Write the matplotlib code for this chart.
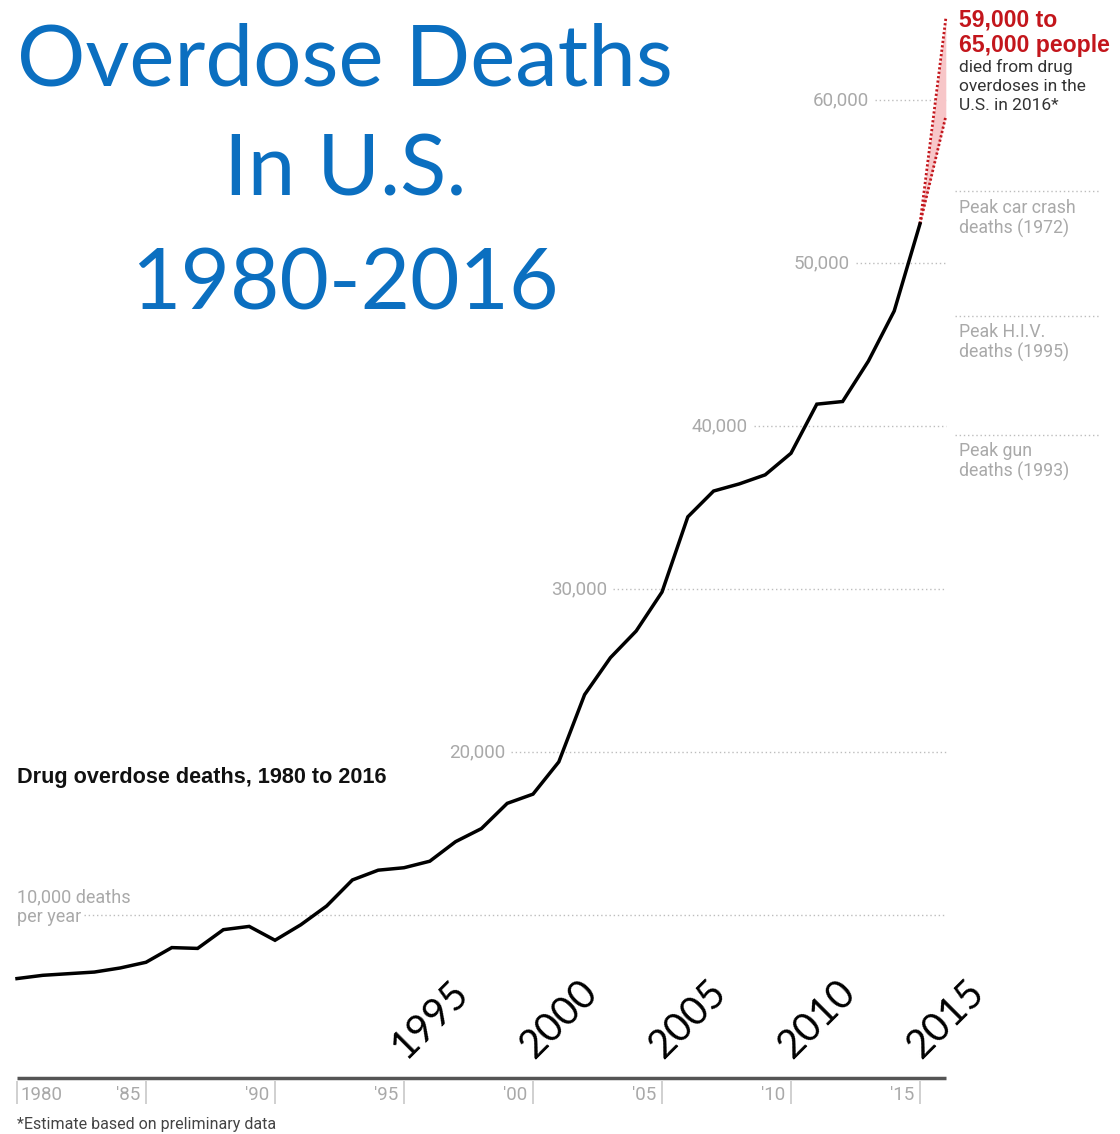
#!/usr/bin/env python3
"""Overdose deaths in the U.S., 1980-2016 (NYT-style line chart with slide title)."""

import matplotlib

matplotlib.use("Agg")
import matplotlib.pyplot as plt

# --- data ---------------------------------------------------------------
years = list(range(1980, 2016))
deaths = [
    6100, 6300, 6400, 6500, 6750, 7100, 8000, 7950, 9100, 9300,
    8450, 9400, 10550, 12150, 12750, 12900, 13300, 14500, 15300, 16849,
    17415, 19394, 23518, 25785, 27424, 29813, 34425, 36010, 36450, 37004,
    38329, 41340, 41502, 43982, 47055, 52404,
]
est_year = 2016
est_low, est_high = 59000, 65000

grid_levels = [10000, 20000, 30000, 40000, 50000, 60000]
grid_labels = ["10,000 deaths\nper year", "20,000", "30,000", "40,000", "50,000", "60,000"]

peak_names = ["Peak car crash\ndeaths (1972)", "Peak H.I.V.\ndeaths (1995)", "Peak gun\ndeaths (1993)"]
peak_values = [54400, 46750, 39450]

tick_years = [1980, 1985, 1990, 1995, 2000, 2005, 2010, 2015]
tick_labels = ["1980", "'85", "'90", "'95", "'00", "'05", "'10", "'15"]
big_years = [1995, 2000, 2005, 2010, 2015]

# --- layout -------------------------------------------------------------
W, H = 1120, 1134
PX_YEAR = 25.8      # pixels per year
PX_K = 16.3         # pixels per 1000 deaths
X0, Y0 = 17, 1078   # pixel of (1980, 0)

GRAY = "#a9a9a9"
RED = "#c3161c"
BLUE = "#0b6fc0"
SANS = ["Roboto", "DejaVu Sans"]
BOLD = ["Liberation Sans", "DejaVu Sans"]

fig = plt.figure(figsize=(W / 100, H / 100), dpi=100)
ax = fig.add_axes([0, 0, 1, 1])
ax.set_xlim(1980 - X0 / PX_YEAR, 1980 + (W - X0) / PX_YEAR)
ax.set_ylim(-(H - Y0) / PX_K * 1000, Y0 / PX_K * 1000)
ax.axis("off")


def yr(px):
    return 1980 + (px - X0) / PX_YEAR


def val(py):
    return (Y0 - py) / PX_K * 1000


# gridlines with labels sitting just left of where they start
label_right = [None, 505, 607, 748, 850, 869]
for lvl, lab, rpx in zip(grid_levels, grid_labels, label_right):
    if rpx is None:
        ax.hlines(lvl, yr(84), est_year, colors="#bdbdbd", linestyles=(0, (1, 2)), lw=1)
        ax.text(yr(17), val(907), lab, color=GRAY, fontsize=13, family=SANS,
                ha="left", va="center", linespacing=1.1)
    else:
        ax.hlines(lvl, yr(rpx + 6), est_year, colors="#bdbdbd", linestyles=(0, (1, 2)), lw=1)
        ax.text(yr(rpx), lvl, lab, color=GRAY, fontsize=13.5, family=SANS,
                ha="right", va="center")

# peak reference lines on the right
for name, v in zip(peak_names, peak_values):
    ax.hlines(v, yr(955), yr(1100), colors="#bdbdbd", linestyles=(0, (1, 2)), lw=1)
    ax.text(yr(959), v - 450, name, color=GRAY, fontsize=12.8, family=SANS,
            ha="left", va="top", linespacing=1.12)

# estimate fan for 2016
last_y, last_v = years[-1], deaths[-1]
ax.fill_between([last_y, est_year], [last_v, est_low], [last_v, est_high],
                color="#f7c6c8", lw=0, zorder=2)
for top in (est_low, est_high):
    ax.plot([last_y, est_year], [last_v, top], color=RED, lw=2,
            ls=(0, (0.8, 0.8)), zorder=3)

# main line
ax.plot(years, deaths, color="black", lw=2.5, solid_joinstyle="miter", zorder=4)

# x axis
ax.plot([1980, est_year], [0, 0], color="#555555", lw=2.5, solid_capstyle="butt")
for ty, tl in zip(tick_years, tick_labels):
    ax.vlines(ty, val(1081), val(1104), colors="#c8c8c8", lw=1.2)
    if ty == 1980:
        ax.text(ty + 0.15, val(1095), tl, color=GRAY, fontsize=13.5, family=SANS,
                ha="left", va="center")
    else:
        ax.text(ty - 0.22, val(1095), tl, color=GRAY, fontsize=13.5, family=SANS,
                ha="right", va="center")

# big rotated year labels
for by in big_years:
    ax.text(by + 1.0, val(1019), str(by), rotation=45, fontsize=28.5,
            family=["Lato", "DejaVu Sans"], color="black",
            ha="center", va="center", rotation_mode="anchor")

# text annotations
ax.text(yr(17), val(777), "Drug overdose deaths, 1980 to 2016", fontsize=15.6,
        family=BOLD, weight="bold", color="#111111", ha="left", va="center")
ax.text(yr(959), val(9), "59,000 to\n65,000 people", fontsize=16.6, family=BOLD,
        weight="bold", color=RED, ha="left", va="top", linespacing=1.1)
ax.text(yr(959), val(59), "died from drug\noverdoses in the\nU.S. in 2016*", fontsize=12.5,
        family=SANS, color="#333333", ha="left", va="top", linespacing=1.35)
ax.text(yr(17), val(1125), "*Estimate based on preliminary data", fontsize=11.5,
        family=SANS, color="#444444", ha="left", va="center")

# slide title
for line, base in zip(["Overdose Deaths", "In U.S.", "1980-2016"], [85, 196, 309]):
    fig.text(345 / W, 1 - base / H, line, fontsize=61.5, family=["Lato", "DejaVu Sans"],
             color=BLUE, ha="center", va="baseline")

fig.savefig("out.png", dpi=100)
